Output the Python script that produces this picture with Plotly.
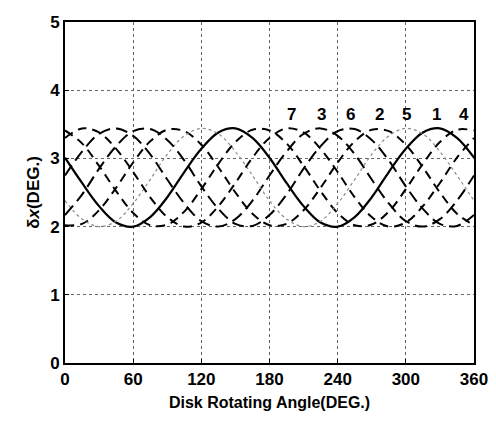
import plotly.graph_objects as go

angle = [0, 15, 30, 45, 60, 75, 90, 105, 120, 135, 150, 165,
         180, 195, 210, 225, 240, 255, 270, 285, 300, 315, 330, 345, 360]

c1 = [3.01, 2.64, 2.30, 2.06, 2.00, 2.14, 2.43, 2.80, 3.14, 3.38, 3.44, 3.30,
      3.01, 2.64, 2.30, 2.06, 2.00, 2.14, 2.43, 2.80, 3.14, 3.38, 3.44, 3.30, 3.01]
c2 = [2.02, 2.04, 2.24, 2.57, 2.94, 3.25, 3.42, 3.40, 3.20, 2.87, 2.50, 2.19,
      2.02, 2.04, 2.24, 2.57, 2.94, 3.25, 3.42, 3.40, 3.20, 2.87, 2.50, 2.19, 2.02]
c3 = [2.75, 3.10, 3.36, 3.44, 3.33, 3.06, 2.69, 2.34, 2.08, 2.00, 2.11, 2.38,
      2.75, 3.10, 3.36, 3.44, 3.33, 3.06, 2.69, 2.34, 2.08, 2.00, 2.11, 2.38, 2.75]
c4 = [3.41, 3.22, 2.89, 2.52, 2.20, 2.02, 2.03, 2.22, 2.55, 2.92, 3.24, 3.42,
      3.41, 3.22, 2.89, 2.52, 2.20, 2.02, 2.03, 2.22, 2.55, 2.92, 3.24, 3.42, 3.41]
c5 = [2.38, 2.11, 2.00, 2.08, 2.34, 2.69, 3.06, 3.33, 3.44, 3.36, 3.10, 2.75,
      2.38, 2.11, 2.00, 2.08, 2.34, 2.69, 3.06, 3.33, 3.44, 3.36, 3.10, 2.75, 2.38]
c6 = [2.17, 2.47, 2.85, 3.18, 3.40, 3.43, 3.27, 2.97, 2.59, 2.26, 2.04, 2.01,
      2.17, 2.47, 2.85, 3.18, 3.40, 3.43, 3.27, 2.97, 2.59, 2.26, 2.04, 2.01, 2.17]
c7 = [3.30, 3.44, 3.38, 3.14, 2.80, 2.43, 2.14, 2.00, 2.06, 2.30, 2.64, 3.01,
      3.30, 3.44, 3.38, 3.14, 2.80, 2.43, 2.14, 2.00, 2.06, 2.30, 2.64, 3.01, 3.30]

label_text = ["7", "3", "6", "2", "5", "1", "4"]
label_x = [199, 226, 251, 277, 301, 327, 351]
label_y = [3.64, 3.64, 3.64, 3.64, 3.64, 3.64, 3.64]

x_ticks = [0, 60, 120, 180, 240, 300, 360]
y_ticks = [0, 1, 2, 3, 4, 5]

series = [
    ("1", c1, "black", "solid", 2.2),
    ("2", c2, "black", "9px,6px", 2.0),
    ("3", c3, "black", "12px,6px", 2.0),
    ("4", c4, "black", "9px,6px", 2.0),
    ("5", c5, "#8a8a8a", "dot", 1.2),
    ("6", c6, "black", "12px,6px", 2.0),
    ("7", c7, "black", "9px,6px", 2.0),
]

fig = go.Figure()
for name, ys, col, dash, w in series:
    fig.add_trace(go.Scatter(x=angle, y=ys, mode="lines", name=name,
                             line=dict(color=col, dash=dash, width=w, shape="spline"),
                             showlegend=False))

for t, lx, ly in zip(label_text, label_x, label_y):
    fig.add_annotation(x=lx, y=ly, text="<b>" + t + "</b>", showarrow=False,
                       font=dict(size=17, color="black", family="Liberation Sans"))

axis_common = dict(showline=True, linecolor="black", linewidth=2, mirror=True,
                   showgrid=True, gridcolor="#666666", griddash="dot", gridwidth=1,
                   ticks="inside", ticklen=4, tickcolor="black", zeroline=False,
                   ticklabeloverflow="allow",
                   tickfont=dict(size=17, color="black", family="Liberation Sans"))

fig.update_xaxes(range=[0, 360], tickvals=x_ticks,
                 ticktext=["<b>%d</b>" % v for v in x_ticks],
                 title=dict(text="<b>Disk Rotating Angle(DEG.)</b>",
                            font=dict(size=16, color="black", family="Liberation Sans"),
                            standoff=8),
                 **axis_common)
fig.update_yaxes(range=[0, 5], tickvals=y_ticks,
                 ticktext=["<b>%d</b>" % v for v in y_ticks],
                 title=dict(text="<b>δ<i>x</i>(DEG.)</b>",
                            font=dict(size=17, color="black", family="Liberation Sans"),
                            standoff=6),
                 **axis_common)

fig.update_layout(width=496, height=427, margin=dict(l=57, r=30, t=5, b=72),
                  paper_bgcolor="white", plot_bgcolor="white")

fig.write_html("out.html")
